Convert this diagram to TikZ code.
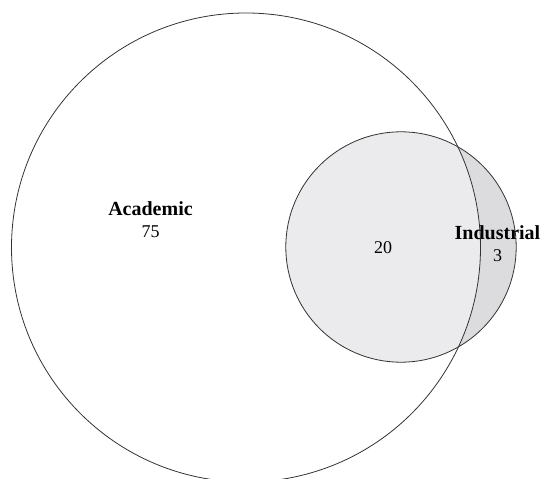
\documentclass[tikz,border=0pt]{standalone}
\usepackage{fontspec}
\setmainfont{Liberation Serif}
\definecolor{interfill}{HTML}{EBEBED}
\definecolor{exclfill}{HTML}{DCDCDF}
\definecolor{edge}{HTML}{333333}
\begin{document}
\begin{tikzpicture}[x=1pt,y=-1pt,
  setcircle/.style={circle, draw=edge, line width=0.8pt, inner sep=0pt},
  setlabel/.style={anchor=base, font=\fontsize{20}{22}\selectfont\bfseries, inner sep=0pt},
  countlabel/.style={anchor=base, font=\fontsize{18}{20}\selectfont, inner sep=0pt}]
\useasboundingbox (0,0) rectangle (541,479);
\clip (0,0) rectangle (541,479);
% fills
\fill[exclfill] (401,247) circle (115.2);
\begin{scope}
  \clip (246,247.5) circle (234.5);
  \fill[interfill] (401,247) circle (115.2);
\end{scope}
% outlines
\node[setcircle, minimum size=469pt] (acad) at (246,247.5) {};
\node[setcircle, minimum size=230.4pt] (ind) at (401,247) {};
% labels
\node[setlabel] (acadname) at (150.5,215.7) {Academic};
\node[countlabel] (acadnum) at (150.7,237.7) {75};
\node[countlabel] (bothnum) at (383,253) {20};
\node[setlabel] (indname) at (497.5,239.3) {Industrial};
\node[countlabel] (indnum) at (497.7,261.7) {3};
\end{tikzpicture}
\end{document}
